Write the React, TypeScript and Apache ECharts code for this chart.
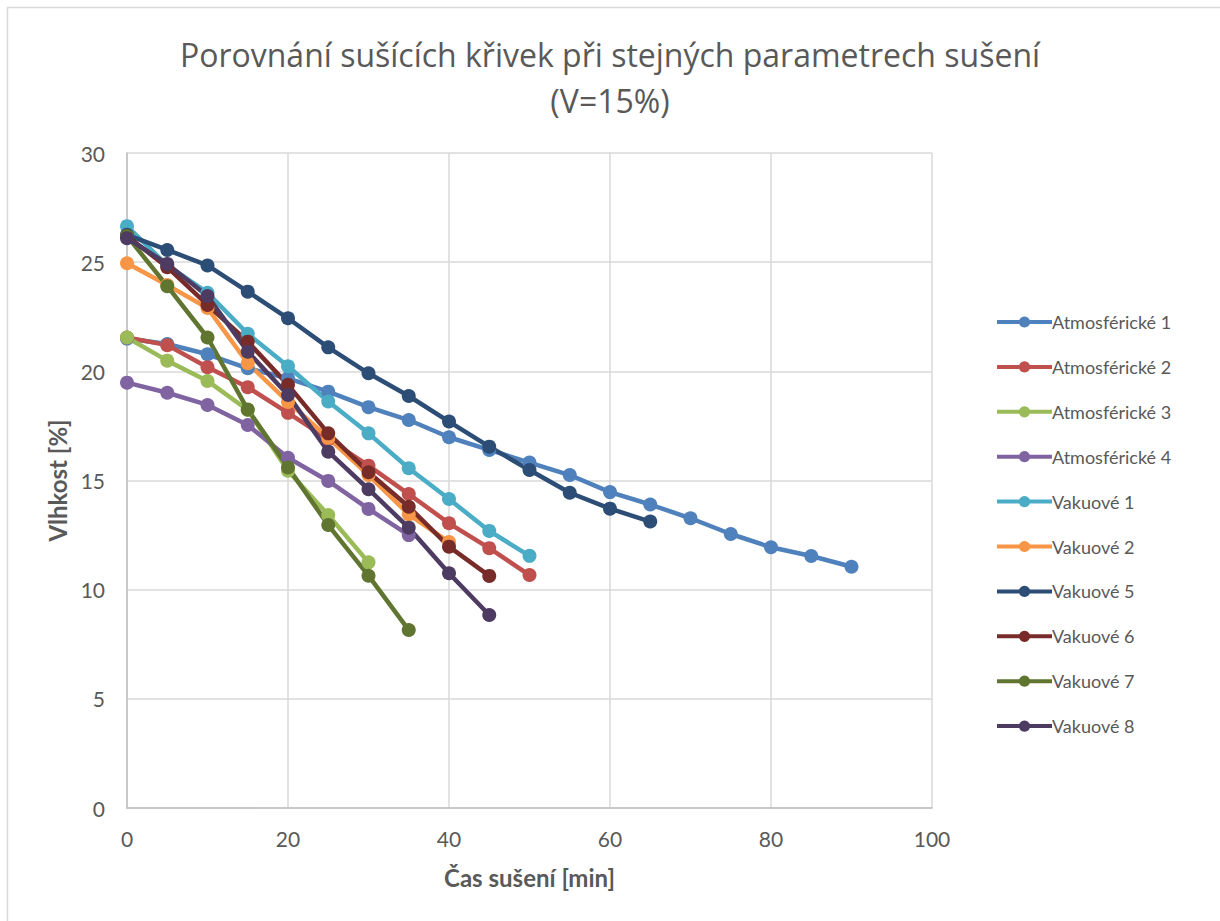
import React, { useEffect, useRef } from "react";
import * as echarts from "echarts";

const seriesNames = [
  "Atmosférické 1",
  "Atmosférické 2",
  "Atmosférické 3",
  "Atmosférické 4",
  "Vakuové 1",
  "Vakuové 2",
  "Vakuové 5",
  "Vakuové 6",
  "Vakuové 7",
  "Vakuové 8",
];

const colors = [
  "#4F81BD",
  "#C0504D",
  "#9BBB59",
  "#8064A2",
  "#4BACC6",
  "#F79646",
  "#2C4D75",
  "#772C2A",
  "#5F7530",
  "#4D3B62",
];

const times = [0, 5, 10, 15, 20, 25, 30, 35, 40, 45, 50, 55, 60, 65, 70, 75, 80, 85, 90];

const atm1 = [21.5, 21.25, 20.78, 20.14, 19.68, 19.07, 18.36, 17.77, 16.98, 16.4, 15.82, 15.25, 14.47, 13.9, 13.27, 12.55, 11.94, 11.54, 11.05];
const atm2 = [21.55, 21.2, 20.19, 19.27, 18.1, 16.9, 15.68, 14.38, 13.04, 11.9, 10.67];
const atm3 = [21.55, 20.49, 19.56, 18.23, 15.45, 13.42, 11.25];
const atm4 = [19.48, 19.02, 18.46, 17.54, 16.04, 14.98, 13.7, 12.5];
const vak1 = [26.65, 24.85, 23.6, 21.72, 20.23, 18.62, 17.16, 15.56, 14.15, 12.69, 11.55];
const vak2 = [24.95, 23.95, 22.9, 20.37, 18.6, 16.95, 15.25, 13.45, 12.18];
const vak5 = [26.25, 25.56, 24.85, 23.65, 22.43, 21.1, 19.91, 18.87, 17.7, 16.55, 15.48, 14.44, 13.71, 13.12];
const vak6 = [26.2, 24.77, 23.04, 21.36, 19.38, 17.16, 15.38, 13.8, 11.97, 10.63];
const vak7 = [26.2, 23.9, 21.55, 18.25, 15.6, 12.96, 10.64, 8.15];
const vak8 = [26.1, 24.92, 23.45, 20.9, 18.92, 16.32, 14.6, 12.84, 10.75, 8.84];

const allValues = [atm1, atm2, atm3, atm4, vak1, vak2, vak5, vak6, vak7, vak8];

const xTicks = { min: 0, max: 100, interval: 20 };
const yTicks = { min: 0, max: 30, interval: 5 };

const FONT = "Lato, 'Open Sans', sans-serif";
const TITLE_FONT = "'Open Sans', Lato, sans-serif";
const TEXT = "#595959";

export default function App() {
  const ref = useRef<HTMLDivElement>(null);

  useEffect(() => {
    if (!ref.current) return;
    const chart = echarts.init(ref.current, undefined, { renderer: "svg" });

    const series = allValues.map((vals, i) => ({
      name: seriesNames[i],
      type: "line" as const,
      data: vals.map((v, j) => [times[j], v]),
      symbol: "circle",
      symbolSize: 14,
      showSymbol: true,
      color: colors[i],
      lineStyle: { width: 4.5, color: colors[i] },
      itemStyle: { color: colors[i] },
      emphasis: { disabled: true },
    }));

    chart.setOption({
      animation: false,
      textStyle: { fontFamily: FONT },
      title: {
        text: "Porovnání sušících křivek při stejných parametrech sušení\n(V=15%)",
        left: "center",
        top: 26,
        textStyle: {
          fontFamily: TITLE_FONT,
          fontSize: 32,
          fontWeight: "normal",
          color: TEXT,
          lineHeight: 46,
        },
      },
      graphic: [
        {
          type: "rect",
          shape: { x: 7.5, y: 7.5, width: 1300, height: 1000 },
          style: { fill: "none", stroke: "#d9d9d9", lineWidth: 1.5 },
          silent: true,
        },
      ],
      legend: {
        orient: "vertical",
        left: 990,
        top: 307,
        itemWidth: 55,
        itemHeight: 14,
        itemGap: 24.9,
        lineStyle: { width: 4 },
        textStyle: { fontFamily: FONT, fontSize: 18, color: TEXT, lineHeight: 20, padding: [0, 0, 0, -5] },
        data: seriesNames,
      },
      grid: { left: 127, right: 288, top: 153, bottom: 113, containLabel: false },
      xAxis: {
        type: "value",
        min: xTicks.min,
        max: xTicks.max,
        interval: xTicks.interval,
        name: "Čas sušení [min]",
        nameLocation: "middle",
        nameGap: 57,
        nameTextStyle: { fontFamily: FONT, fontSize: 24, fontWeight: "bold", color: TEXT },
        axisLine: { show: true, lineStyle: { color: "#bfbfbf", width: 1.5 } },
        axisTick: { show: false },
        axisLabel: { fontFamily: FONT, fontSize: 21, color: TEXT, margin: 20 },
        splitLine: { show: true, lineStyle: { color: "#d9d9d9", width: 1.5 } },
      },
      yAxis: {
        type: "value",
        min: yTicks.min,
        max: yTicks.max,
        interval: yTicks.interval,
        name: "Vlhkost [%]",
        nameLocation: "middle",
        nameRotate: 90,
        nameGap: 57,
        nameTextStyle: { fontFamily: FONT, fontSize: 24, fontWeight: "bold", color: TEXT },
        axisLine: { show: true, lineStyle: { color: "#bfbfbf", width: 1.5 } },
        axisTick: { show: false },
        axisLabel: { fontFamily: FONT, fontSize: 21, color: TEXT, margin: 22 },
        splitLine: { show: true, lineStyle: { color: "#d9d9d9", width: 1.5 } },
      },
      series,
    });

    return () => chart.dispose();
  }, []);

  return (
    <div
      ref={ref}
      style={{ position: "absolute", left: 0, top: 0, width: 1220, height: 921, background: "#fff" }}
    />
  );
}
